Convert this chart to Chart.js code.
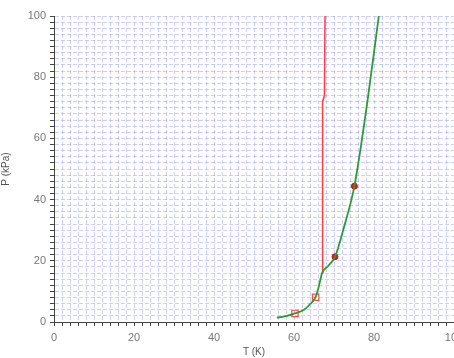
<!DOCTYPE html>
<html>
<head>
<meta charset="utf-8">
<script src="https://cdn.jsdelivr.net/npm/chart.js@4/dist/chart.umd.min.js"></script>
<style>
  html, body { margin: 0; padding: 0; background: #fff; overflow: hidden; }
  #wrap { width: 470px; height: 358px; }
</style>
</head>
<body>
<div id="wrap"><canvas id="chart" width="470" height="358"></canvas></div>
<script>
// green curve
const greenT = [55.7, 58, 60.25, 62.5, 64, 65.4, 66.2, 67, 68.6, 70.25, 72.5, 75.1, 78.4, 81.2];
const greenP = [1.4, 1.9, 2.8, 4.0, 5.8, 8.1, 11.6, 15.9, 18.4, 21.3, 31, 44.4, 72.5, 100];

// red near-vertical line
const redT = [67, 67.1, 67.2, 67.6, 67.75];
const redP = [15.9, 40, 72, 74, 100];

// open squares
const squareT = [60.25, 65.4];
const squareP = [2.8, 8.1];

// filled circles
const dotT = [70.25, 75.1];
const dotP = [21.3, 44.4];

const xTicks = [0, 20, 40, 60, 80, 100];
const yTicks = [0, 20, 40, 60, 80, 100];

const pts = (xs, ys) => xs.map((x, i) => ({ x: x, y: ys[i] }));

const gridColor = 'rgba(130,130,255,0.38)';
const labelFont = { family: 'Liberation Sans, Arial, sans-serif', size: 11 };

new Chart(document.getElementById('chart').getContext('2d'), {
  type: 'line',
  data: {
    datasets: [
      {
        data: pts(greenT, greenP),
        borderColor: '#2f9a35',
        borderWidth: 1.8,
        pointRadius: 0,
        cubicInterpolationMode: 'monotone',
        fill: false
      },
      {
        data: pts(redT, redP),
        borderColor: '#ff3b3b',
        borderWidth: 1.5,
        pointRadius: 0,
        fill: false
      },
      {
        data: pts(squareT, squareP),
        showLine: false,
        pointStyle: 'rect',
        pointRadius: 4.5,
        pointBorderColor: '#ff4a4a',
        pointBackgroundColor: 'rgba(255,255,255,0)',
        pointBorderWidth: 1.2
      },
      {
        data: pts(dotT, dotP),
        showLine: false,
        pointStyle: 'circle',
        pointRadius: 3,
        pointBorderColor: '#cc1010',
        pointBackgroundColor: '#dd1a1a',
        pointBorderWidth: 1
      }
    ]
  },
  options: {
    responsive: false,
    animation: false,
    layout: { padding: { top: 16, right: 16, left: 0, bottom: 0 } },
    plugins: { legend: { display: false }, tooltip: { enabled: false } },
    scales: {
      x: {
        type: 'linear',
        min: 0,
        max: 100,
        ticks: {
          stepSize: 2,
          autoSkip: false,
          maxRotation: 0,
          color: '#777',
          font: labelFont,
          padding: 5,
          callback: v => xTicks.includes(v) ? String(v) : ''
        },
        grid: { color: gridColor, tickColor: '#444', tickLength: 4, tickBorderDash: [] },
        border: { color: '#444', width: 1, dash: [4, 2] },
        title: { display: true, text: 'T (K)', color: '#555', font: { family: labelFont.family, size: 10 }, padding: { top: 1, bottom: 0 } },
        afterFit: s => { s.height = 36; }
      },
      y: {
        type: 'linear',
        min: 0,
        max: 100,
        ticks: {
          stepSize: 2,
          autoSkip: false,
          color: '#777',
          font: labelFont,
          padding: 4,
          callback: v => yTicks.includes(v) ? String(v) : ''
        },
        grid: { color: gridColor, tickColor: '#444', tickLength: 4, tickBorderDash: [] },
        border: { color: '#444', width: 1, dash: [4, 2] },
        title: { display: true, text: 'P (kPa)', color: '#555', font: { family: labelFont.family, size: 10 }, padding: { top: 0, bottom: 4 } },
        afterFit: s => { s.width = 54; }
      }
    }
  }
});
</script>
</body>
</html>
